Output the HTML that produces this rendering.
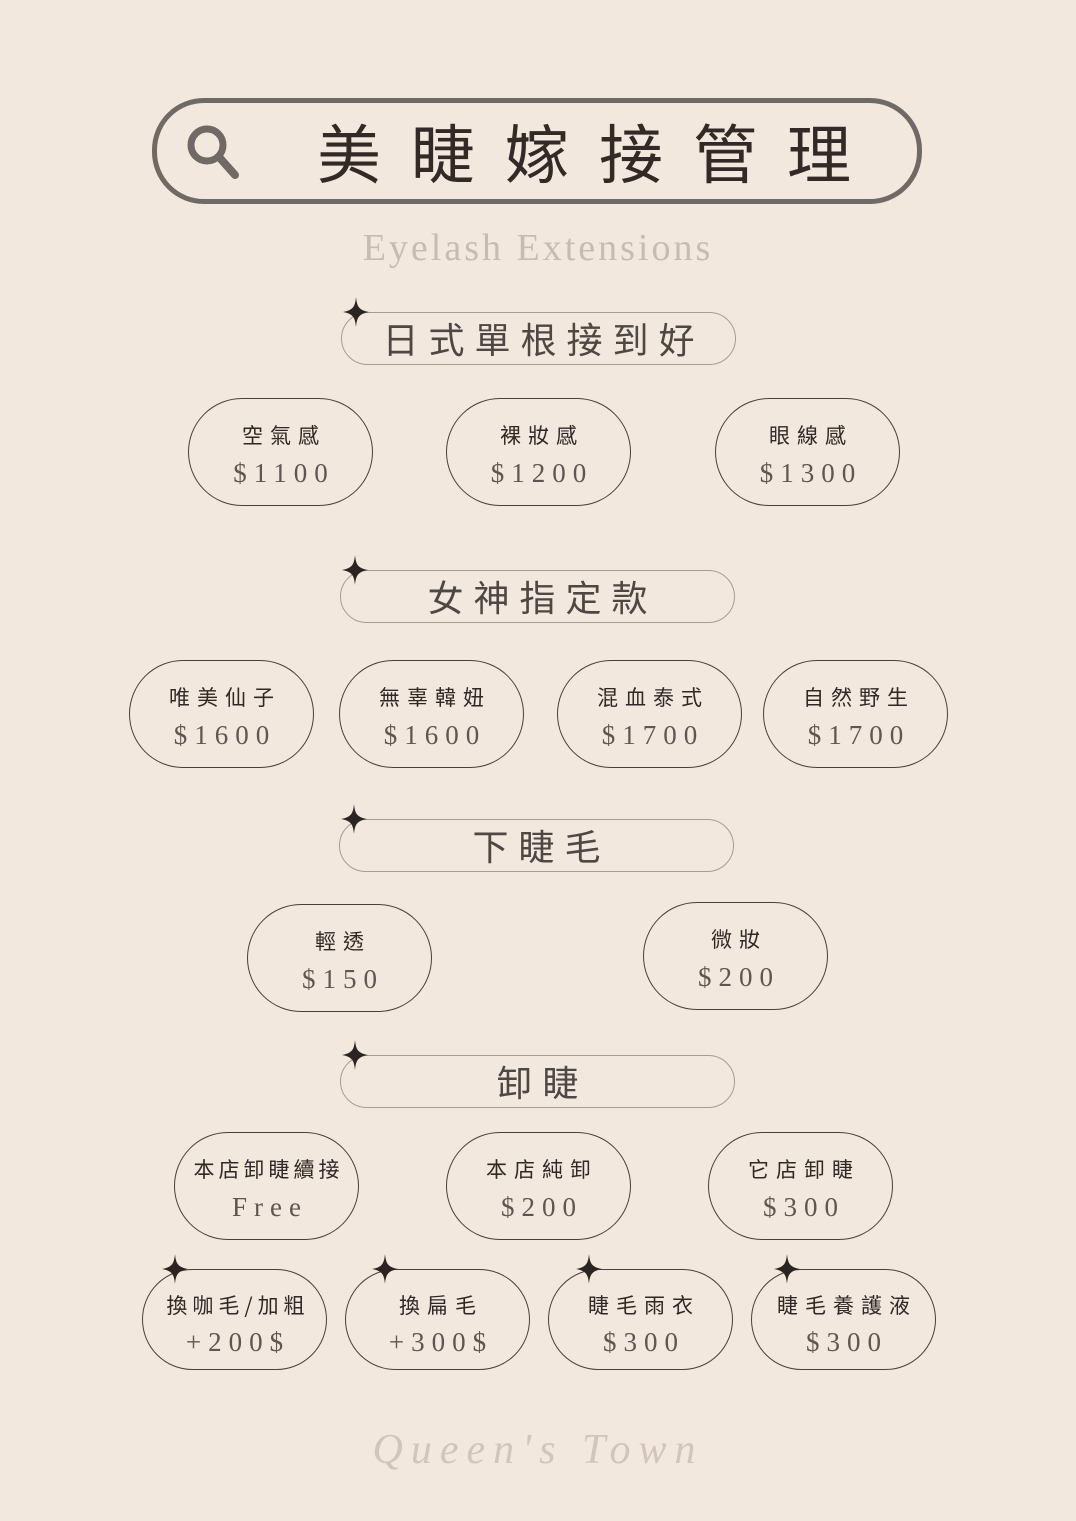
<!DOCTYPE html>
<html><head><meta charset="utf-8">
<style>
html,body{margin:0;padding:0}
body{width:1076px;height:1521px;position:relative;overflow:hidden;background:#f3e8dd;font-family:"Liberation Serif","Noto Serif CJK SC",serif}
.cjk{font-family:"Noto Sans CJK TC","Noto Sans CJK SC",sans-serif}
.title{position:absolute;left:152px;top:98px;width:760px;height:96px;border:5px solid #6f6a65;border-radius:52px}
.title .t{position:absolute;left:160px;top:8px;font-size:64px;letter-spacing:30px;color:#332a28;line-height:80px;white-space:nowrap}
.sub{position:absolute;left:0;width:1076px;top:226px;text-align:center;font-size:38px;letter-spacing:3px;color:#c8bcb2;font-family:"Liberation Serif",serif}
.hd{position:absolute;width:393px;height:51px;border:1.3px solid #a59d97;border-radius:27px;text-align:center}
.hd span{font-size:36px;letter-spacing:10px;color:#4e4744;line-height:51px;padding-left:10px}
.pill{position:absolute;width:183px;height:106px;border:1.5px solid #4a3f3b;border-radius:54px;text-align:center}
.pill .n{position:absolute;left:0;right:0;top:21px;font-size:21px;letter-spacing:7px;color:#2f2826;line-height:30px;padding-left:7px}
.pill .p{position:absolute;left:0;right:0;top:57px;font-size:27px;letter-spacing:7px;color:#5f5654;line-height:34px;padding-left:7px;font-family:"Liberation Serif",serif}
.star{position:absolute;width:26px;height:30px}
</style></head><body>
<div class="title">
<svg style="position:absolute;left:26px;top:18px" width="64" height="64" viewBox="0 0 64 64"><circle cx="24" cy="24" r="16" fill="none" stroke="#6f6a65" stroke-width="7"/><line x1="36" y1="36" x2="52" y2="54" stroke="#6f6a65" stroke-width="8" stroke-linecap="round"/></svg>
<div class="t cjk">美睫嫁接管理</div>
</div>
<div class="sub">Eyelash Extensions</div>

<svg width="0" height="0" style="position:absolute"><defs><symbol id="st" viewBox="0 0 26 30"><path d="M13 0 C14 10 16 13 26 15 C16 17 14 20 13 30 C12 20 10 17 0 15 C10 13 12 10 13 0Z" fill="#2a2422"/></symbol></defs></svg>

<div class="hd" style="left:341px;top:312px"><span class="cjk">日式單根接到好</span></div>
<svg class="star" style="left:343px;top:297px"><use href="#st"/></svg>
<div class="hd" style="left:340px;top:570px"><span class="cjk">女神指定款</span></div>
<svg class="star" style="left:342px;top:555px"><use href="#st"/></svg>
<div class="hd" style="left:339px;top:819px"><span class="cjk">下睫毛</span></div>
<svg class="star" style="left:341px;top:804px"><use href="#st"/></svg>
<div class="hd" style="left:340px;top:1055px"><span class="cjk">卸睫</span></div>
<svg class="star" style="left:342px;top:1040px"><use href="#st"/></svg>

<div class="pill" style="left:188px;top:398px"><div class="n cjk">空氣感</div><div class="p">$1100</div></div>
<div class="pill" style="left:446px;top:398px"><div class="n cjk">裸妝感</div><div class="p">$1200</div></div>
<div class="pill" style="left:715px;top:398px"><div class="n cjk">眼線感</div><div class="p">$1300</div></div>

<div class="pill" style="left:129px;top:660px"><div class="n cjk">唯美仙子</div><div class="p">$1600</div></div>
<div class="pill" style="left:339px;top:660px"><div class="n cjk">無辜韓妞</div><div class="p">$1600</div></div>
<div class="pill" style="left:557px;top:660px"><div class="n cjk">混血泰式</div><div class="p">$1700</div></div>
<div class="pill" style="left:763px;top:660px"><div class="n cjk">自然野生</div><div class="p">$1700</div></div>

<div class="pill" style="left:247px;top:904px"><div class="n cjk">輕透</div><div class="p">$150</div></div>
<div class="pill" style="left:643px;top:902px"><div class="n cjk">微妝</div><div class="p">$200</div></div>

<div class="pill" style="left:174px;top:1132px"><div class="n cjk" style="letter-spacing:4px;padding-left:4px">本店卸睫續接</div><div class="p">Free</div></div>
<div class="pill" style="left:446px;top:1132px"><div class="n cjk">本店純卸</div><div class="p">$200</div></div>
<div class="pill" style="left:708px;top:1132px"><div class="n cjk">它店卸睫</div><div class="p">$300</div></div>

<div class="pill" style="left:142px;top:1269px;height:99px"><div class="n cjk" style="letter-spacing:5px;top:20px">換咖毛/加粗</div><div class="p" style="top:55px">+200$</div></div>
<svg class="star" style="left:162px;top:1254px"><use href="#st"/></svg>
<div class="pill" style="left:345px;top:1269px;height:99px"><div class="n cjk" style="top:20px">換扁毛</div><div class="p" style="top:55px">+300$</div></div>
<svg class="star" style="left:372px;top:1254px"><use href="#st"/></svg>
<div class="pill" style="left:548px;top:1269px;height:99px"><div class="n cjk" style="top:20px">睫毛雨衣</div><div class="p" style="top:55px">$300</div></div>
<svg class="star" style="left:576px;top:1254px"><use href="#st"/></svg>
<div class="pill" style="left:751px;top:1269px;height:99px"><div class="n cjk" style="top:20px">睫毛養護液</div><div class="p" style="top:55px">$300</div></div>
<svg class="star" style="left:774px;top:1254px"><use href="#st"/></svg>

<div style="position:absolute;left:0;width:1076px;top:1426px;text-align:center;font-size:42px;font-style:italic;color:#d2c6bc;letter-spacing:8px;font-family:'Liberation Serif',serif">Queen's Town</div>
</body></html>
